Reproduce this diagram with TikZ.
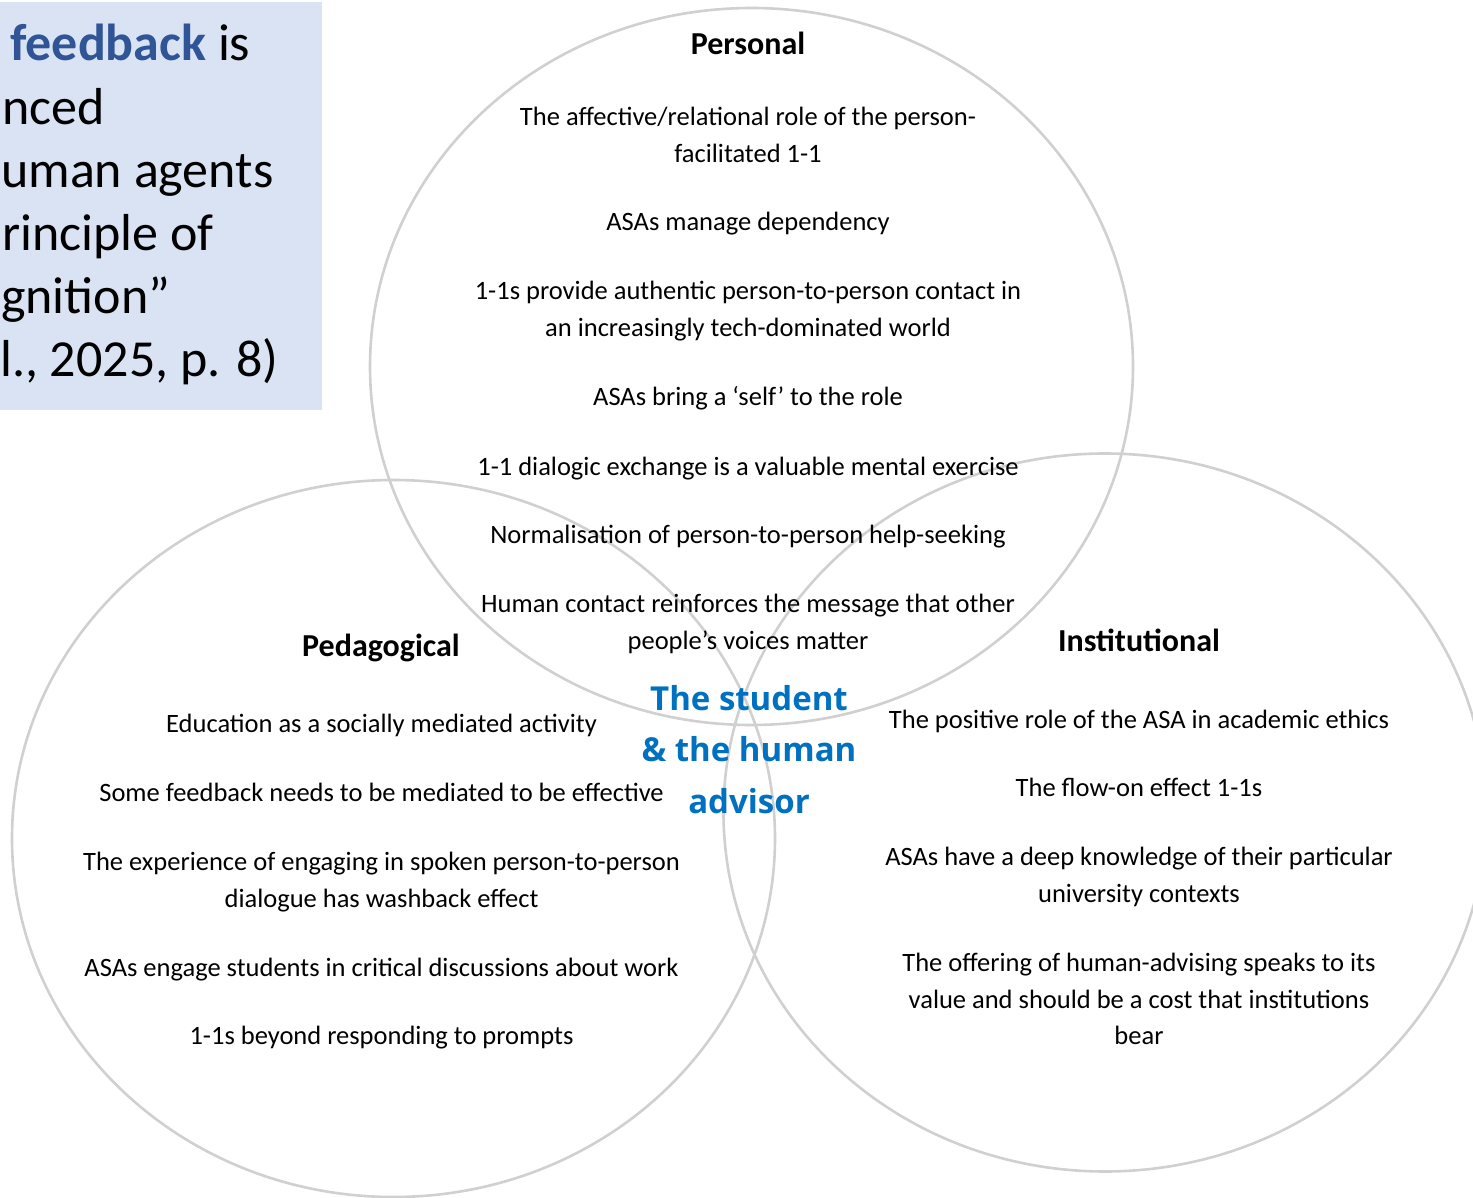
\documentclass[tikz,border=0pt]{standalone}
\usepackage{fontspec}
\setmainfont{Carlito}
\newfontfamily\centerfont{Open Sans}
\definecolor{boxfill}{HTML}{DAE3F3}
\definecolor{quoteblue}{HTML}{2F5597}
\definecolor{centerblue}{HTML}{0070C0}
\definecolor{ringgray}{HTML}{D0D0D0}
\tikzset{
  ring/.style={draw=ringgray, line width=2.6pt},
  body/.style={anchor=base, inner sep=0pt, font=\fontsize{26.5}{32}\selectfont},
  head/.style={anchor=base, inner sep=0pt, font=\fontsize{32}{38}\selectfont\bfseries},
  core/.style={anchor=base, inner sep=0pt, text=centerblue, font=\fontsize{33}{39}\selectfont\centerfont\bfseries},
  quote/.style={anchor=base west, inner sep=0pt, font=\fontsize{52}{60}\selectfont}
}
\begin{document}
\begin{tikzpicture}[x=1pt, y=-1pt]
\useasboundingbox (0,0) rectangle (1473,1198);
% quote box
\fill[boxfill] (0,2) rectangle (322,410);
\node[quote] (q1) at (10,61) {\textcolor{quoteblue}{\bfseries feedback} is};
\node[quote] (q2) at (2,124.2) {nced};
\node[quote] (q3) at (1,187.4) {uman agents};
\node[quote] (q4) at (2,250.6) {rinciple of};
\node[quote] (q5) at (1,313.8) {gnition”};
\node[quote] (q6) at (0,377) {l., 2025, p. 8)};
% circles
\draw[ring] (751.5,366.5) ellipse [x radius=381.5, y radius=358.5];
\draw[ring] (393.5,838.5) ellipse [x radius=381.5, y radius=358.5];
\draw[ring] (1105,812.5) ellipse [x radius=381.5, y radius=359];
% Personal
\node[head] (ph) at (748,55) {Personal};
\node[body] (p1a) at (748,126) {The affective/relational role of the person-};
\node[body] (p1b) at (748,163) {facilitated 1-1};
\node[body] (p2) at (748,231) {ASAs manage dependency};
\node[body] (p3a) at (748,300) {1-1s provide authentic person-to-person contact in};
\node[body] (p3b) at (748,337) {an increasingly tech-dominated world};
\node[body] (p4) at (748,406) {ASAs bring a ‘self’ to the role};
\node[body] (p5) at (748,475) {1-1 dialogic exchange is a valuable mental exercise};
\node[body] (p6) at (748,543) {Normalisation of person-to-person help-seeking};
\node[body] (p7a) at (748,612) {Human contact reinforces the message that other};
\node[body] (p7b) at (748,649) {people’s voices matter};
% Pedagogical
\node[head] (gh) at (381,656) {Pedagogical};
\node[body] (g1) at (381.5,732) {Education as a socially mediated activity};
\node[body] (g2) at (381.5,801) {Some feedback needs to be mediated to be effective};
\node[body] (g3a) at (381.5,870) {The experience of engaging in spoken person-to-person};
\node[body] (g3b) at (381.5,907) {dialogue has washback effect};
\node[body] (g4) at (381.5,976) {ASAs engage students in critical discussions about work};
\node[body] (g5) at (381.5,1044) {1-1s beyond responding to prompts};
% Institutional
\node[head] (ih) at (1139,651.5) {Institutional};
\node[body] (i1) at (1139,728) {The positive role of the ASA in academic ethics};
\node[body] (i2) at (1139,796) {The flow-on effect 1-1s};
\node[body] (i3a) at (1139,865) {ASAs have a deep knowledge of their particular};
\node[body] (i3b) at (1139,902) {university contexts};
\node[body] (i4a) at (1139,971) {The offering of human-advising speaks to its};
\node[body] (i4b) at (1139,1008) {value and should be a cost that institutions};
\node[body] (i4c) at (1139,1044) {bear};
% centre
\node[core] (c1) at (749,710) {The student};
\node[core] (c2) at (749,761.5) {\& the human};
\node[core] (c3) at (749,813) {advisor};
\end{tikzpicture}
\end{document}
